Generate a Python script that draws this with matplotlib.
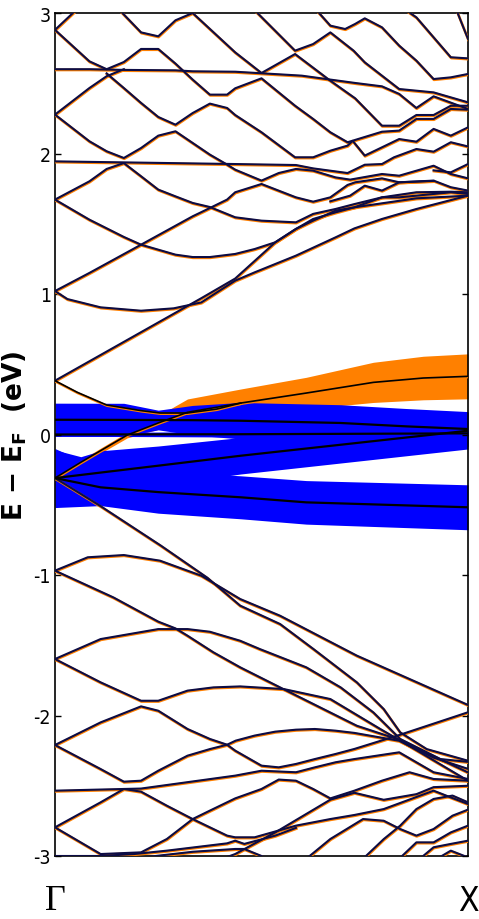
import numpy as np
import matplotlib
matplotlib.use('Agg')
import matplotlib.pyplot as plt
import matplotlib.transforms as mtransforms

NK = 24  # number of k intervals between Gamma and X

# thin bands, each one a list of (k index, E-EF in eV)
upper_bands = [
    [(0, 2.88), (1.3, 3.03)],
    [(3.6, 3.04), (5, 2.862), (6, 2.834), (7, 2.948), (8, 3.0), (10.47, 2.72), (12, 2.573), (13.95, 2.708),
     (16, 2.518), (17.44, 2.393), (19, 2.198), (20, 2.198), (21, 2.274), (22, 2.274), (23, 2.34), (24, 2.34)],
    [(0, 2.88), (2, 2.656), (3, 2.60), (4, 2.651), (5, 2.744), (6, 2.744), (7, 2.64), (8, 2.526), (9, 2.419),
     (10, 2.419), (10.47, 2.464), (12, 2.535), (13.95, 2.34), (15, 2.246), (16, 2.151), (17, 2.08), (19, 2.155),
     (20, 2.163), (21, 2.246), (22, 2.246), (23, 2.317), (24, 2.312)],
    [(0, 2.60), (2, 2.60), (4, 2.595), (7, 2.592), (8, 2.585), (10.47, 2.582), (12, 2.571), (14.34, 2.554),
     (16, 2.526), (17.44, 2.502), (19, 2.478), (20, 2.424), (21, 2.324), (22, 2.407), (24, 2.317)],
    [(11.6, 3.02), (13.95, 2.732), (15, 2.779), (16, 2.862), (17.35, 2.732), (18, 2.649), (20, 2.459),
     (22, 2.435), (24, 2.364)],
    [(15.2, 3.02), (16, 2.91), (16.86, 2.886), (17.44, 2.922), (18, 2.962), (19, 2.898), (20, 2.768),
     (21, 2.661), (22, 2.53), (23, 2.542), (24, 2.566)],
    [(20.4, 3.02), (21, 2.969), (23, 2.685), (24, 2.677)],
    [(23.3, 3.03), (24, 2.815)],
    [(0, 2.277), (2, 2.466), (3, 2.55), (4, 2.60)],
    [(3, 2.57), (4, 2.466), (5, 2.36), (6, 2.26), (7, 2.205), (8, 2.288), (9, 2.355), (10, 2.324), (10.47, 2.274),
     (12, 2.151), (13.95, 1.973), (15, 1.973), (16, 2.02), (17, 2.056), (17.3, 2.09), (18, 1.985), (20, 2.103),
     (21, 2.084), (22, 2.175), (23, 2.127), (24, 2.186)],
    [(0, 2.277), (2, 2.087), (3, 2.016), (4, 1.968), (5, 2.039), (6, 2.127), (7, 2.158), (8, 2.075), (9, 1.992),
     (10, 1.921), (10.47, 1.885), (12, 1.807), (13, 1.861), (14, 1.89), (15, 1.878), (16.3, 1.83), (17.15, 1.814),
     (19, 1.854), (20, 1.842), (22, 1.913), (23, 1.854), (24, 1.823)],
    [(0, 1.944), (10.47, 1.925), (14, 1.918), (15, 1.894), (17, 1.861), (18, 1.92), (19, 1.925), (19.7, 1.973),
     (21, 2.032), (22, 2.013), (23, 2.08), (24, 2.05)],
    [(22, 1.88), (23, 1.866), (24, 1.925)],
    [(0, 1.672), (2, 1.802), (3, 1.89), (4, 1.932), (5, 1.838), (6, 1.743), (7, 1.695), (8, 1.648), (9, 1.619),
     (10.47, 1.546), (12, 1.522), (14, 1.51), (15, 1.57), (16.3, 1.605), (17.4, 1.64), (19, 1.688), (21, 1.724),
     (23, 1.728), (24, 1.724)],
    [(0, 1.672), (2, 1.529), (4, 1.406), (5, 1.351), (7, 1.28), (8, 1.263), (9, 1.263), (10.47, 1.285),
     (11.6, 1.32), (12.8, 1.368), (14, 1.463), (15, 1.522), (16.3, 1.593), (17.4, 1.617), (19, 1.688),
     (20, 1.688), (23, 1.724), (24, 1.712)],
    [(0, 1.021), (2, 1.15), (5, 1.351), (8, 1.553), (9, 1.612), (10, 1.672), (10.47, 1.724), (12, 1.783),
     (14, 1.688), (15, 1.657), (16, 1.688), (17, 1.776), (17.44, 1.795), (19, 1.823), (20, 1.795), (22, 1.807),
     (23, 1.76), (24, 1.736)],
    [(16, 1.66), (17.15, 1.70), (18, 1.771), (19, 1.736), (20, 1.795), (22, 1.805)],
    [(0, 0.383), (8.5, 0.97), (10.47, 1.11), (12.8, 1.368), (14, 1.463), (15, 1.534), (16.3, 1.581),
     (17.4, 1.617), (21, 1.681), (24, 1.70)],
    [(0, 1.021), (0.72, 0.964), (2.65, 0.905), (5, 0.881), (6.9, 0.898), (8.5, 0.94), (10.47, 1.095),
     (11.6, 1.154), (14, 1.273), (16.3, 1.403), (17.4, 1.467), (19, 1.534), (21, 1.605), (24, 1.70)],
]

lower_bands = [
    [(0, -0.31), (2.65, -0.51), (6.14, -0.79), (8.86, -1.02), (10.76, -1.218), (13.08, -1.349), (15.02, -1.527),
     (17.54, -1.764), (19.1, -1.954), (20.06, -2.12), (21.6, -2.239), (24, -2.322)],
    [(0, -0.969), (1.9, -0.874), (4, -0.858), (6.1, -0.898), (8.5, -1.005), (10.76, -1.171), (13.08, -1.29),
     (17.54, -1.574), (24, -1.925)],
    [(0, -0.969), (3.4, -1.16), (5, -1.266), (6, -1.332), (7, -1.38), (7.7, -1.432), (9.2, -1.55),
     (10.76, -1.657), (13.08, -1.80), (17.54, -2.073), (19.87, -2.167), (24, -2.405)],
    [(0, -1.598), (2.65, -1.456), (6, -1.385), (7.7, -1.385), (9, -1.404), (10.76, -1.468), (11.9, -1.527),
     (14.6, -1.657), (16.6, -1.80), (18.5, -1.978), (20.06, -2.167), (22.4, -2.31), (24, -2.33)],
    [(0, -1.598), (2.65, -1.764), (5, -1.895), (6, -1.895), (7.7, -1.823), (9.2, -1.80), (10.76, -1.793),
     (13.3, -1.812), (16, -1.883), (18.9, -2.096), (19.9, -2.167), (24, -2.464)],
    [(0, -2.21), (2.65, -2.049), (5, -1.935), (6, -1.966), (7.7, -2.096), (9, -2.167), (10, -2.208),
     (10.47, -2.25), (12, -2.357), (13, -2.369), (14, -2.345), (15.1, -2.31), (16.3, -2.274), (17.4, -2.238),
     (20, -2.139), (24, -1.977)],
    [(0, -2.21), (2.65, -2.381), (4, -2.471), (5, -2.464), (6, -2.393), (7.7, -2.286), (9, -2.239), (10, -2.208),
     (10.5, -2.179), (11.6, -2.143), (12.8, -2.115), (14, -2.101), (15.1, -2.096), (16.3, -2.108),
     (17.4, -2.124), (20, -2.18), (22, -2.30), (24, -2.38)],
    [(0, -2.535), (5, -2.52), (10.47, -2.428), (12, -2.393), (14, -2.404), (15.1, -2.369), (16.3, -2.333),
     (17.4, -2.31), (20, -2.262), (22, -2.404), (24, -2.452)],
    [(0, -2.796), (2.65, -2.618), (4, -2.523), (5, -2.542), (6.5, -2.642), (8, -2.737), (9, -2.677),
     (10.47, -2.59), (12, -2.523), (13, -2.456), (14, -2.464), (15, -2.523), (16, -2.59), (17.4, -2.535),
     (19, -2.464), (20.6, -2.404), (22, -2.452), (24, -2.464)],
    [(0, -2.796), (2.65, -2.986), (5, -2.974), (6.5, -2.879), (8, -2.737), (10, -2.855), (10.47, -2.867),
     (11.6, -2.867), (14, -2.784), (16, -2.737), (17.4, -2.708), (19.1, -2.666), (22, -2.535), (23, -2.583),
     (24, -2.63)],
    [(9.5, -3.03), (10.47, -2.986), (12.8, -2.832), (16, -2.599), (17.4, -2.55), (19.1, -2.60), (21, -2.56),
     (22, -2.51), (24, -2.50)],
    [(0, -3.0), (2.65, -3.0), (4.6, -2.986), (6.5, -2.962), (10, -2.91), (10.47, -2.891), (11, -2.914),
     (12.8, -2.855), (14, -2.80)],
    [(4.4, -3.02), (8, -2.97), (10.47, -2.95), (11, -2.95), (12.4, -3.02)],
    [(14.6, -3.02), (16, -2.879), (17.9, -2.737), (19.1, -2.749), (20.06, -2.808), (21, -2.855), (22, -2.808),
     (23.1, -2.713), (24, -2.67)],
    [(17.9, -3.02), (19.1, -2.88), (20.06, -2.784), (21, -2.666), (22, -2.594), (23.1, -2.57), (24, -2.618)],
    [(20, -3.02), (21, -2.903), (22, -2.903), (23, -2.832), (24, -2.784)],
    [(21.2, -3.02), (22, -2.938), (23, -2.914), (24, -2.891)],
    [(22.2, -3.02), (23, -2.962), (24, -3.01)],
]

# black bands inside the fat-band region
o1_band = [(0, -0.31), (1.5, -0.198), (2.65, -0.115), (4.2, -0.004), (6, 0.082), (7.7, 0.158), (10.8, 0.224)]
o2_band = [(0, 0.383), (1.3, 0.30), (3, 0.21), (5, 0.17), (6.1, 0.153), (7.7, 0.153), (9.4, 0.181), (10.8, 0.224),
           (14.6, 0.295), (18.5, 0.371), (21.4, 0.402), (24, 0.414)]

# fat bands: k index, energy, half width (eV)
orange_i = [0, 1.5, 2.65, 4.2, 6, 6.9, 7.7, 10.8, 14.6, 18.5, 21.4, 24]
orange_e = [-0.31, -0.198, -0.115, -0.004, 0.082, 0.122, 0.158, 0.224, 0.295, 0.371, 0.402, 0.414]
orange_w = [0.012, 0.015, 0.018, 0.02, 0.045, 0.075, 0.095, 0.10, 0.112, 0.143, 0.155, 0.16]

b1_i = [0, 4, 6, 8, 10.8, 16.6, 20.4, 24]
b1_e = [0.105, 0.104, 0.103, 0.102, 0.098, 0.082, 0.058, 0.039]
b1_w = [0.118, 0.118, 0.07, 0.105, 0.13, 0.13, 0.127, 0.124]

b2_i = [0, 10.8, 24]
b2_e = [0.0, 0.002, 0.008]
b2_w = [0.012, 0.02, 0.02]

b3_i = [0, 1.5, 2.65, 6, 10.8, 16, 20, 24]
b3_e = [-0.31, -0.288, -0.271, -0.222, -0.151, -0.081, -0.027, 0.027]
b3_w = [0.2, 0.13, 0.155, 0.14, 0.13, 0.13, 0.13, 0.13]

b4_i = [0, 2.65, 6, 10.8, 14.6, 24]
b4_e = [-0.31, -0.376, -0.41, -0.447, -0.483, -0.518]
b4_w = [0.21, 0.13, 0.15, 0.153, 0.155, 0.16]

y_ticks = [3, 2, 1, 0, -1, -2, -3]
y_labels = ['3', '2', '1', '0', '-1', '-2', '-3']
k_labels = ['\u0393', 'X']

navy = '#0c0c45'
orange = '#ff8000'
blue = '#0000ff'

fig = plt.figure(figsize=(4.79, 9.2), dpi=100)
ax = fig.add_axes([55 / 479, 63 / 920, 413 / 479, 843 / 920])

# halo drawn slightly shifted so the orange shows on one side of each line
halo = mtransforms.offset_copy(ax.transData, fig=fig, x=0.4, y=-0.8, units='dots')


def fat(idx, en, hw, color):
    k = np.array(idx) / NK
    e = np.array(en)
    w = np.array(hw)
    ax.fill_between(k, e - w, e + w, color=color, lw=0, zorder=1)


fat(orange_i, orange_e, orange_w, orange)
for idx, en, hw in [(b1_i, b1_e, b1_w), (b2_i, b2_e, b2_w), (b3_i, b3_e, b3_w), (b4_i, b4_e, b4_w)]:
    fat(idx, en, hw, blue)

for band in upper_bands + lower_bands:
    k = np.array([p[0] for p in band]) / NK
    e = np.array([p[1] for p in band])
    ax.plot(k, e, color=orange, lw=1.9, zorder=3, transform=halo)
    ax.plot(k, e, color=navy, lw=1.5, zorder=4)

for band in [o1_band, o2_band]:
    k = np.array([p[0] for p in band]) / NK
    e = np.array([p[1] for p in band])
    ax.plot(k, e, color=orange, lw=1.7, zorder=3, transform=halo)
    ax.plot(k, e, color='black', lw=1.2, zorder=5)

for idx, en in [(b1_i, b1_e), (b2_i, b2_e), (b3_i, b3_e), (b4_i, b4_e)]:
    ax.plot(np.array(idx) / NK, en, color='black', lw=1.6, zorder=5)

ax.set_xlim(0, 1)
ax.set_ylim(-3, 3)

ax.set_yticks(y_ticks)
ax.set_yticklabels(y_labels)
ax.tick_params(axis='y', direction='in', length=4, width=1, left=True, right=True, pad=3)
for lbl in ax.get_yticklabels():
    lbl.set_fontfamily('DejaVu Sans')
    lbl.set_fontstretch('condensed')
    lbl.set_fontsize(14)

ax.set_xticks([0, 1])
ax.set_xticklabels(k_labels)
ax.tick_params(axis='x', length=0, pad=20)
xl = ax.get_xticklabels()
xl[0].set_fontfamily(['Liberation Serif', 'DejaVu Serif'])
xl[0].set_fontsize(26)
xl[1].set_fontfamily('DejaVu Sans')
xl[1].set_fontstretch('condensed')
xl[1].set_fontsize(24)

ax.set_ylabel('E \u2212 E$_{\\mathbf{F}}$  (eV)', fontsize=19, fontweight='bold', family='DejaVu Sans')
ax.yaxis.set_label_coords(-0.062, 0.5)

for s in ax.spines.values():
    s.set_linewidth(1.2)

fig.savefig('out.png', dpi=100)
